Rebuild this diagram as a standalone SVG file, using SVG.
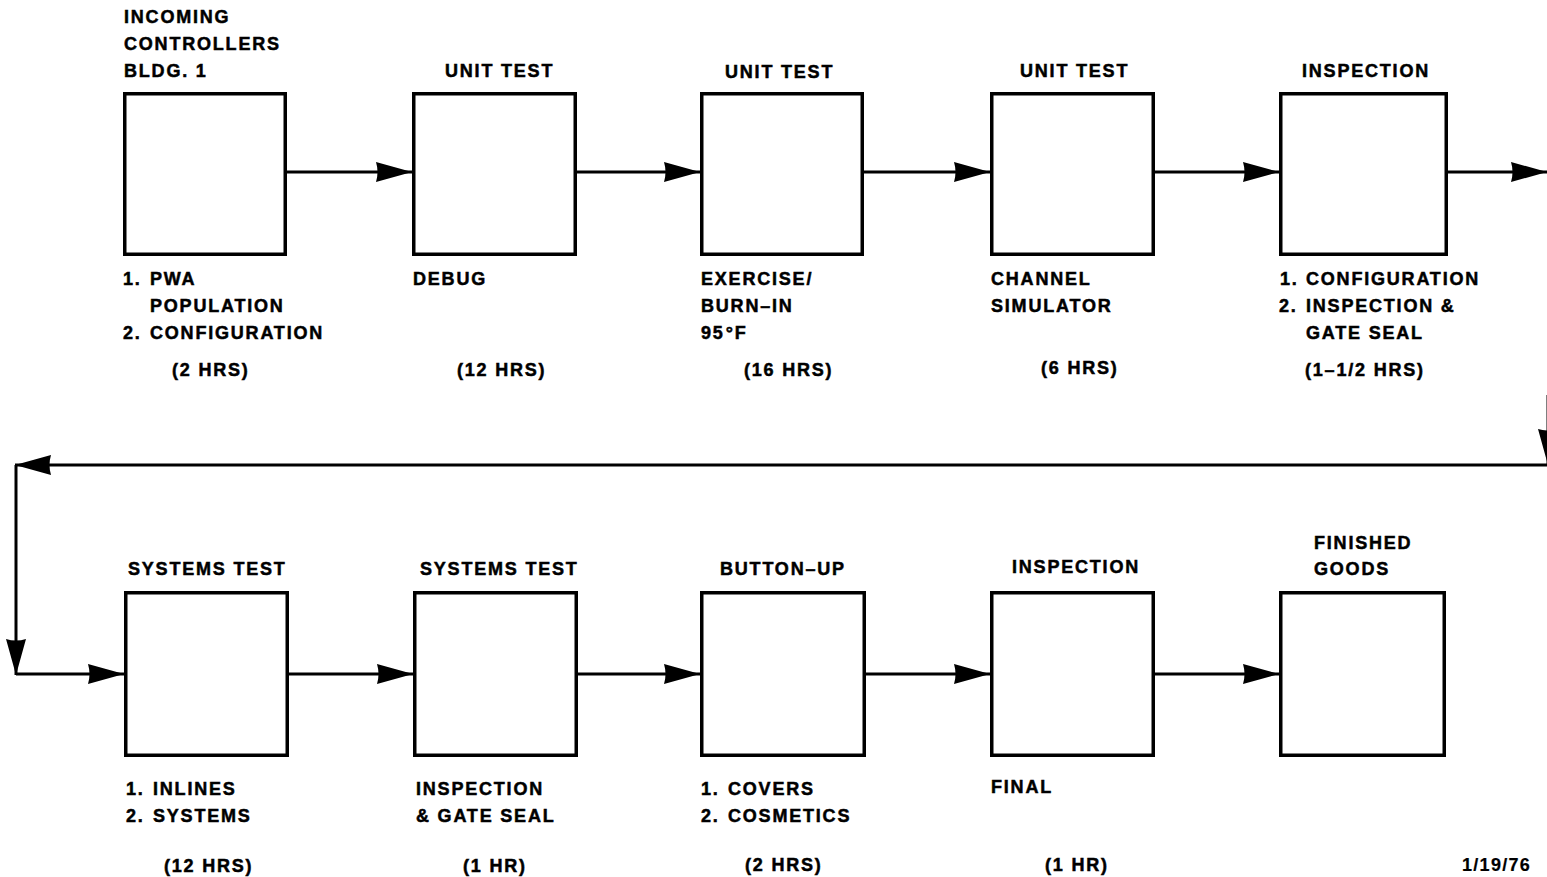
<svg xmlns="http://www.w3.org/2000/svg" width="1547" height="877" viewBox="0 0 1547 877">
  <defs>
    <style>
      .box { fill: #fff; stroke: #000; stroke-width: 3.5; }
      .wire { fill: none; stroke: #000; stroke-width: 3; }
      text { font-family: "Liberation Sans", Arial, sans-serif; font-weight: bold; font-size: 18px; letter-spacing: 1.8px; fill: #000; stroke: #000; stroke-width: 0.5px; }
      .date { letter-spacing: 1.3px; stroke-width: 0.2px; }
    </style>
    <marker id="head" markerUnits="userSpaceOnUse" markerWidth="38" markerHeight="22" refX="36" refY="10" orient="auto">
      <path d="M0,0 L36,10 L0,20 Q3,10 0,0 z" fill="#000"/>
    </marker>
  </defs>
  <rect width="1547" height="877" fill="#fff"/>

  <!-- connectors -->
  <g id="connectors">
    <path class="wire" d="M287,172 H412" marker-end="url(#head)"/>
    <path class="wire" d="M577,172 H700" marker-end="url(#head)"/>
    <path class="wire" d="M864,172 H990" marker-end="url(#head)"/>
    <path class="wire" d="M1155,172 H1279" marker-end="url(#head)"/>
    <path class="wire" d="M1448,172 H1547" marker-end="url(#head)"/>
    <!-- return loop: down the right edge, back across, down the left edge -->
    <path class="wire" d="M1548,395 V465" marker-end="url(#head)"/>
    <path class="wire" d="M1547,465 H15" marker-end="url(#head)"/>
    <path class="wire" d="M16,465 V675" marker-end="url(#head)"/>
    <path class="wire" d="M16,674 H124" marker-end="url(#head)"/>
    <path class="wire" d="M289,674 H413" marker-end="url(#head)"/>
    <path class="wire" d="M578,674 H700" marker-end="url(#head)"/>
    <path class="wire" d="M866,674 H990" marker-end="url(#head)"/>
    <path class="wire" d="M1155,674 H1279" marker-end="url(#head)"/>
  </g>

  <!-- top row -->
  <g id="incoming">
    <text x="124" y="23">INCOMING</text>
    <text x="124" y="50">CONTROLLERS</text>
    <text x="124" y="77">BLDG. 1</text>
    <rect class="box" x="124.75" y="93.75" width="160.5" height="160.5"/>
    <text x="123" y="285">1.</text><text x="150" y="285">PWA</text>
    <text x="150" y="312">POPULATION</text>
    <text x="123" y="339">2.</text><text x="150" y="339">CONFIGURATION</text>
    <text x="172" y="376">(2 HRS)</text>
  </g>
  <g id="unit-test-debug">
    <text x="445" y="77">UNIT TEST</text>
    <rect class="box" x="413.75" y="93.75" width="161.5" height="160.5"/>
    <text x="413" y="285">DEBUG</text>
    <text x="457" y="376">(12 HRS)</text>
  </g>
  <g id="unit-test-burnin">
    <text x="725" y="78">UNIT TEST</text>
    <rect class="box" x="701.75" y="93.75" width="160.5" height="160.5"/>
    <text x="701" y="285">EXERCISE/</text>
    <text x="701" y="312">BURN–IN</text>
    <text x="701" y="339">95<tspan dx="1" letter-spacing="0">°</tspan><tspan dx="2">F</tspan></text>
    <text x="744" y="376">(16 HRS)</text>
  </g>
  <g id="unit-test-channel">
    <text x="1020" y="77">UNIT TEST</text>
    <rect class="box" x="991.75" y="93.75" width="161.5" height="160.5"/>
    <text x="991" y="285">CHANNEL</text>
    <text x="991" y="312">SIMULATOR</text>
    <text x="1041" y="374">(6 HRS)</text>
  </g>
  <g id="inspection-gate">
    <text x="1302" y="77">INSPECTION</text>
    <rect class="box" x="1280.75" y="93.75" width="165.5" height="160.5"/>
    <text x="1280" y="285">1.</text><text x="1306" y="285">CONFIGURATION</text>
    <text x="1279" y="312">2.</text><text x="1306" y="312">INSPECTION &amp;</text>
    <text x="1306" y="339">GATE SEAL</text>
    <text x="1305" y="376">(1–1/2 HRS)</text>
  </g>

  <!-- bottom row -->
  <g id="systems-test-1">
    <text x="128" y="575">SYSTEMS TEST</text>
    <rect class="box" x="125.75" y="592.75" width="161.5" height="162.5"/>
    <text x="126" y="795">1.</text><text x="153" y="795">INLINES</text>
    <text x="126" y="822">2.</text><text x="153" y="822">SYSTEMS</text>
    <text x="164" y="872">(12 HRS)</text>
  </g>
  <g id="systems-test-2">
    <text x="420" y="575">SYSTEMS TEST</text>
    <rect class="box" x="414.75" y="592.75" width="161.5" height="162.5"/>
    <text x="416" y="795">INSPECTION</text>
    <text x="416" y="822">&amp; GATE SEAL</text>
    <text x="463" y="872">(1 HR)</text>
  </g>
  <g id="button-up">
    <text x="720" y="575">BUTTON–UP</text>
    <rect class="box" x="701.75" y="592.75" width="162.5" height="162.5"/>
    <text x="701" y="795">1.</text><text x="728" y="795">COVERS</text>
    <text x="701" y="822">2.</text><text x="728" y="822">COSMETICS</text>
    <text x="745" y="871">(2 HRS)</text>
  </g>
  <g id="inspection-final">
    <text x="1012" y="573">INSPECTION</text>
    <rect class="box" x="991.75" y="592.75" width="161.5" height="162.5"/>
    <text x="991" y="793">FINAL</text>
    <text x="1045" y="871">(1 HR)</text>
  </g>
  <g id="finished-goods">
    <text x="1314" y="549">FINISHED</text>
    <text x="1314" y="575">GOODS</text>
    <rect class="box" x="1280.75" y="592.75" width="163.5" height="162.5"/>
  </g>

  <text class="date" x="1462" y="871">1/19/76</text>
</svg>
